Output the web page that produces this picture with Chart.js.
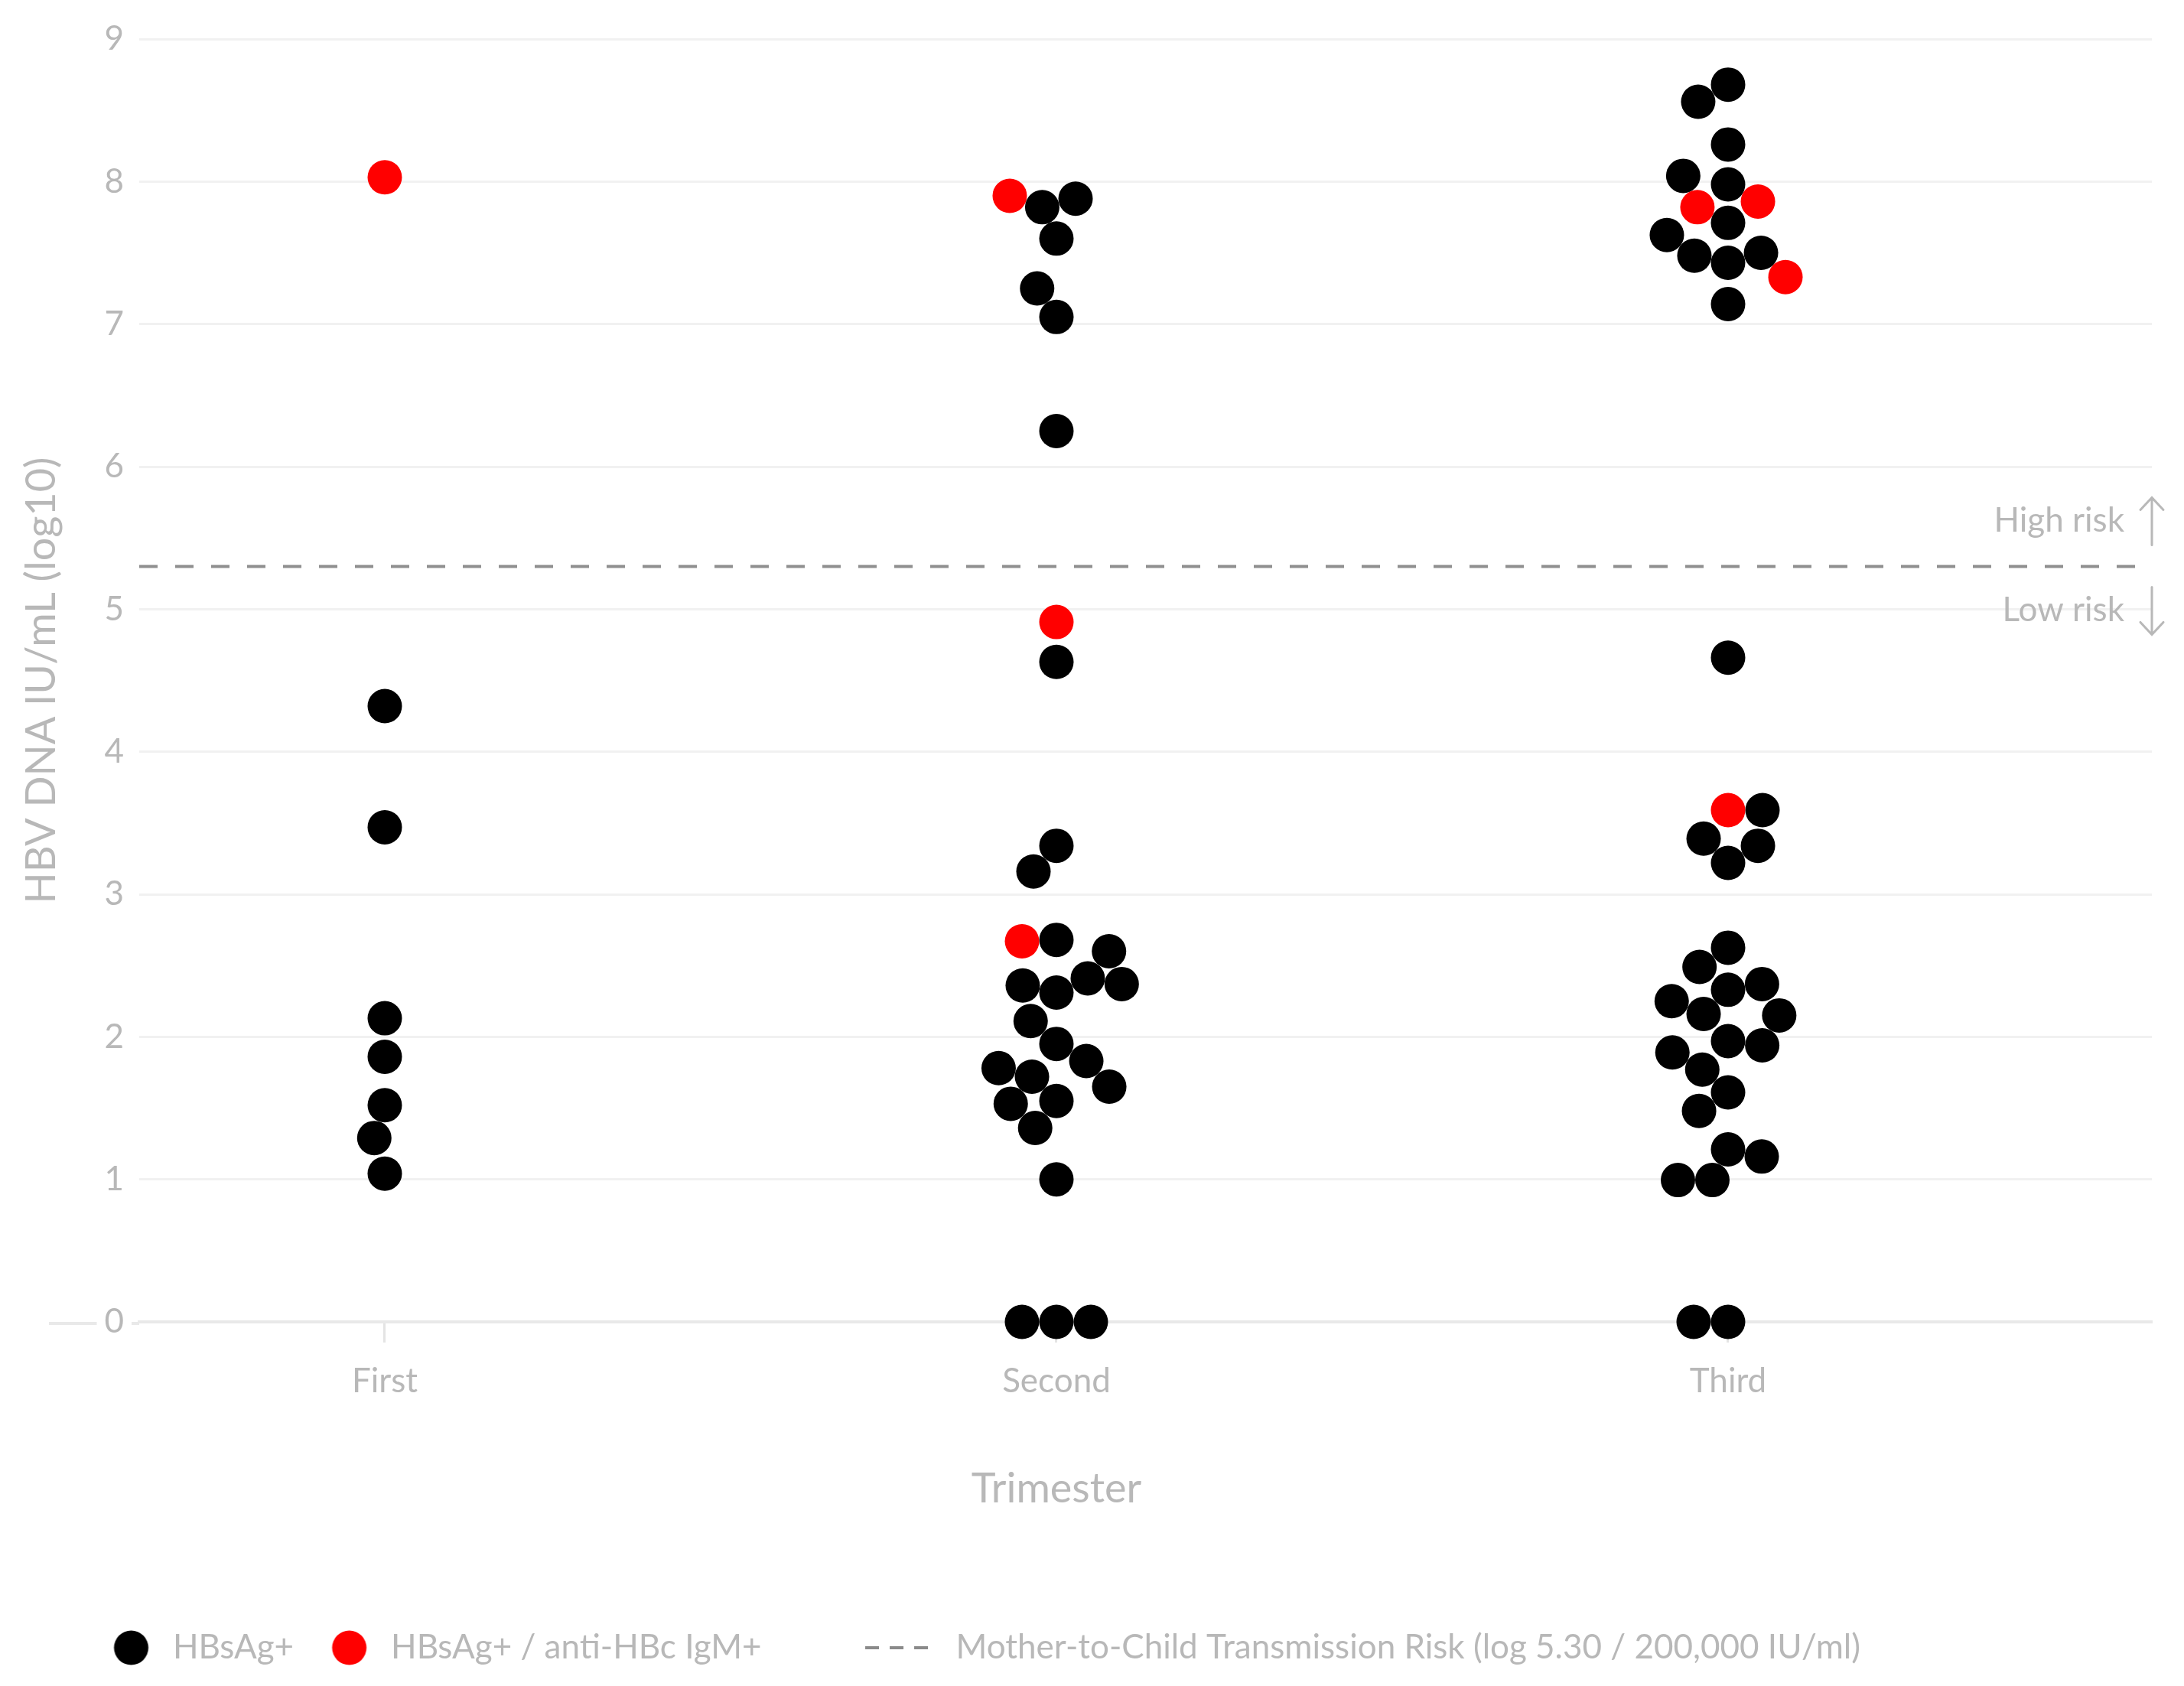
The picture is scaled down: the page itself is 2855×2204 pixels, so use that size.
<!DOCTYPE html>
<html>
<head>
<meta charset="utf-8">
<script src="https://cdn.jsdelivr.net/npm/chart.js@4.4.1/dist/chart.umd.min.js"></script>
<style>
  html, body { margin: 0; padding: 0; background: #ffffff; }
  canvas { display: block; }
</style>
</head>
<body>
<canvas id="chart" width="2855" height="2204"></canvas>
<script>
// ---------------- DATA ----------------
const categories = ['First', 'Second', 'Third'];

// HBV DNA (log10 IU/mL) per trimester, in the order the points were laid out;
// the matching *IgM array flags anti-HBc IgM+ (1) vs HBsAg+ only (0)
const firstValues = [8.03, 4.32, 3.47, 2.13, 1.86, 1.52, 1.29, 1.04];
const firstIgM    = [1, 0, 0, 0, 0, 0, 0, 0];

const secondValues = [7.60, 7.82, 7.88, 7.90, 7.05, 7.25, 6.25, 4.91, 4.63,
                      3.34, 3.16, 2.68, 2.67, 2.31, 2.36, 2.41, 2.60, 2.37,
                      1.95, 2.11, 1.55, 1.72, 1.83, 1.78, 1.65, 1.53, 1.36,
                      1.00, 0, 0, 0];
const secondIgM    = [0, 0, 0, 1, 0, 0, 0, 1, 0,
                      0, 0, 0, 1, 0, 0, 0, 0, 0,
                      0, 0, 0, 0, 0, 0, 0, 0, 0,
                      0, 0, 0, 0];

const thirdValues = [8.68, 8.56, 8.26, 7.98, 7.71, 7.82, 7.86, 8.04, 7.43, 7.48,
                     7.50, 7.14, 7.33, 7.625, 4.66,
                     3.59, 3.22, 3.39, 3.34, 3.59, 2.625, 2.49, 2.33, 2.37, 2.16,
                     2.25, 1.97, 1.94, 2.15, 1.61, 1.77, 1.89, 1.48, 1.21, 0.995,
                     1.16, 0.995, 0, 0];
const thirdIgM    = [0, 0, 0, 0, 0, 1, 1, 0, 0, 0,
                     0, 0, 1, 0, 0,
                     1, 0, 0, 0, 0, 0, 0, 0, 0, 0,
                     0, 0, 0, 0, 0, 0, 0, 0, 0, 0,
                     0, 0, 0, 0];

const riskThreshold = 5.3;
const yTickValues = [0, 1, 2, 3, 4, 5, 6, 7, 8, 9];
const seriesLabels = ['HBsAg+', 'HBsAg+ / anti-HBc IgM+',
                      'Mother-to-Child Transmission Risk (log 5.30 / 200,000 IU/ml)'];
const annotationLabels = ['High risk', 'Low risk'];
const xTitle = 'Trimester';
const yTitle = 'HBV DNA IU/mL (log10)';

// ---------------- STYLE ----------------
const TEXT = '#b8b8b8';
const FONT = 'Lato, "Open Sans", sans-serif';
const POINT_R = 22.5;
const X_MIN = -0.3656, X_MAX = 2.631;

const groups = [
  { values: firstValues, igm: firstIgM },
  { values: secondValues, igm: secondIgM },
  { values: thirdValues, igm: thirdIgM }
];

function initialData(flag) {
  const out = [];
  groups.forEach((g, ci) => g.values.forEach((v, j) => { if (g.igm[j] === flag) out.push({ x: ci, y: v }); }));
  return out;
}

// legend symbols
function circleImg(color) {
  const c = document.createElement('canvas');
  c.width = 100; c.height = 50;
  const g = c.getContext('2d');
  g.fillStyle = color;
  g.beginPath(); g.arc(50, 25, POINT_R, 0, Math.PI * 2); g.fill();
  return c;
}
function dashImg() {
  const c = document.createElement('canvas');
  c.width = 140; c.height = 10;
  const g = c.getContext('2d');
  g.strokeStyle = '#8a8a8a'; g.lineWidth = 4; g.setLineDash([18, 14]);
  g.beginPath(); g.moveTo(6, 5); g.lineTo(88, 5); g.stroke();
  return c;
}
function blankImg() {
  const c = document.createElement('canvas');
  c.width = 1; c.height = 1;
  return c;
}
const legendImgs = [circleImg('#000000'), circleImg('#ff0000'), dashImg()];
const spacerImg = blankImg();

// the part of the zero line that runs left under the "0" label
const zeroLineExtension = {
  id: 'zeroLineExtension',
  beforeDraw(chart) {
    const { ctx, chartArea, scales: { x, y } } = chart;
    const py = y.getPixelForValue(0);
    ctx.save();
    ctx.strokeStyle = '#e9e9e9';
    ctx.lineWidth = 4;
    ctx.beginPath();
    ctx.moveTo(x.getPixelForValue(-0.5), py + 2);
    ctx.lineTo(chartArea.left, py + 2);
    ctx.stroke();
    ctx.restore();
  }
};

// "High risk ↑ / Low risk ↓" note and the x-axis title centred on the middle category
const notes = {
  id: 'notes',
  afterDraw(chart) {
    const { ctx, chartArea, scales: { x, y } } = chart;
    const py = y.getPixelForValue(riskThreshold);
    const ax = chartArea.right;
    ctx.save();
    ctx.fillStyle = TEXT;
    ctx.font = '44px ' + FONT;
    ctx.textAlign = 'right';
    ctx.textBaseline = 'middle';
    ctx.fillText(annotationLabels[0], ax - 36, py - 60);
    ctx.fillText(annotationLabels[1], ax - 36, py + 57);
    ctx.strokeStyle = TEXT;
    ctx.lineWidth = 3;
    ctx.lineCap = 'round';
    ctx.beginPath();
    ctx.moveTo(ax, py - 28); ctx.lineTo(ax, py - 90);
    ctx.moveTo(ax - 15, py - 74); ctx.lineTo(ax, py - 90); ctx.lineTo(ax + 15, py - 74);
    ctx.moveTo(ax, py + 27); ctx.lineTo(ax, py + 89);
    ctx.moveTo(ax - 15, py + 73); ctx.lineTo(ax, py + 89); ctx.lineTo(ax + 15, py + 73);
    ctx.stroke();

    ctx.font = '54px ' + FONT;
    ctx.textAlign = 'center';
    ctx.fillText(xTitle, x.getPixelForValue((categories.length - 1) / 2), chartArea.bottom + 219);
    ctx.restore();
  }
};

Chart.defaults.font.family = FONT;
Chart.defaults.color = TEXT;

const chart = new Chart(document.getElementById('chart'), {
  type: 'scatter',
  data: {
    datasets: [
      {
        label: seriesLabels[0],
        data: initialData(0),
        backgroundColor: '#000000',
        borderWidth: 0,
        pointRadius: POINT_R,
        pointHoverRadius: POINT_R,
        clip: false,
        order: 2
      },
      {
        label: seriesLabels[1],
        data: initialData(1),
        backgroundColor: '#ff0000',
        borderWidth: 0,
        pointRadius: POINT_R,
        pointHoverRadius: POINT_R,
        clip: false,
        order: 1
      },
      {
        type: 'line',
        label: seriesLabels[2],
        data: [{ x: X_MIN, y: riskThreshold }, { x: X_MAX, y: riskThreshold }],
        borderColor: '#8f8f8f',
        borderWidth: 4,
        borderDash: [24, 23],
        pointRadius: 0,
        fill: false,
        clip: false,
        order: 3
      }
    ]
  },
  options: {
    responsive: false,
    animation: false,
    events: [],
    layout: { padding: { left: 99, right: 42, top: 51, bottom: 18 } },
    scales: {
      x: {
        type: 'linear',
        min: X_MIN,
        max: X_MAX,
        afterBuildTicks: (s) => { s.ticks = categories.map((c, i) => ({ value: i })); },
        afterFit: (s) => { s.height = 364; },
        ticks: {
          callback: (v) => categories[v],
          font: { size: 44 },
          color: TEXT,
          padding: 24
        },
        grid: {
          drawOnChartArea: false,
          drawTicks: true,
          tickLength: 27,
          tickWidth: 3,
          tickColor: '#e4e4e4'
        },
        border: { display: true, color: '#e9e9e9', width: 4 },
        title: { display: false }
      },
      y: {
        min: 0,
        max: 9,
        afterBuildTicks: (s) => { s.ticks = yTickValues.map(v => ({ value: v })); },
        afterFit: (s) => { s.width = 83; },
        ticks: {
          font: { size: 44 },
          color: TEXT,
          padding: 20,
          showLabelBackdrop: true,
          backdropColor: '#ffffff',
          backdropPadding: { x: 10, y: 2 }
        },
        grid: { color: '#f1f1f1', lineWidth: 3, drawTicks: false },
        border: { display: false },
        title: {
          display: true,
          text: yTitle,
          font: { size: 54 },
          color: TEXT,
          padding: { top: -76.4 }
        }
      }
    },
    plugins: {
      tooltip: { enabled: false },
      legend: {
        display: true,
        position: 'bottom',
        align: 'start',
        labels: {
          usePointStyle: true,
          pointStyleWidth: 65,
          padding: 40,
          font: { size: 44 },
          color: TEXT,
          generateLabels: (ch) => {
            const items = ch.data.datasets.map((ds, i) => ({
              text: ds.label,
              pointStyle: legendImgs[i],
              fillStyle: 'rgba(0,0,0,0)',
              strokeStyle: 'rgba(0,0,0,0)',
              lineWidth: 0,
              fontColor: TEXT,
              hidden: !ch.isDatasetVisible(i),
              datasetIndex: i
            }));
            // empty spacer item that separates the threshold entry from the point entries
            items.splice(2, 0, {
              text: '', pointStyle: spacerImg, fillStyle: 'rgba(0,0,0,0)',
              strokeStyle: 'rgba(0,0,0,0)', lineWidth: 0, fontColor: TEXT, hidden: false
            });
            return items;
          }
        }
      }
    }
  },
  plugins: [zeroLineExtension, notes]
});

// greedy beeswarm: each point goes to the free spot closest to the category centre
function swarmOffsets(values, yScale, d) {
  const placed = [];
  return values.map(v => {
    const py = yScale.getPixelForValue(v);
    const cands = [0];
    placed.forEach(p => {
      const dy = Math.abs(p.y - py);
      if (dy < d) {
        const dx = Math.sqrt(d * d - dy * dy);
        cands.push(p.x - dx, p.x + dx);
      }
    });
    cands.sort((a, b) => (Math.abs(a) - Math.abs(b)) || (a - b));
    const px = cands.find(c => placed.every(p => (p.x - c) ** 2 + (p.y - py) ** 2 >= d * d - 1e-6));
    placed.push({ x: px, y: py });
    return px;
  });
}

function applySwarm() {
  const xs = chart.scales.x, ys = chart.scales.y;
  const unit = xs.getPixelForValue(1) - xs.getPixelForValue(0);
  const black = [], red = [];
  groups.forEach((g, ci) => {
    const offs = swarmOffsets(g.values, ys, 2 * POINT_R);
    g.values.forEach((v, j) => {
      const pt = { x: ci + offs[j] / unit, y: v };
      (g.igm[j] ? red : black).push(pt);
    });
  });
  chart.data.datasets[0].data = black;
  chart.data.datasets[1].data = red;
  chart.update('none');
}
applySwarm();
</script>
</body>
</html>
